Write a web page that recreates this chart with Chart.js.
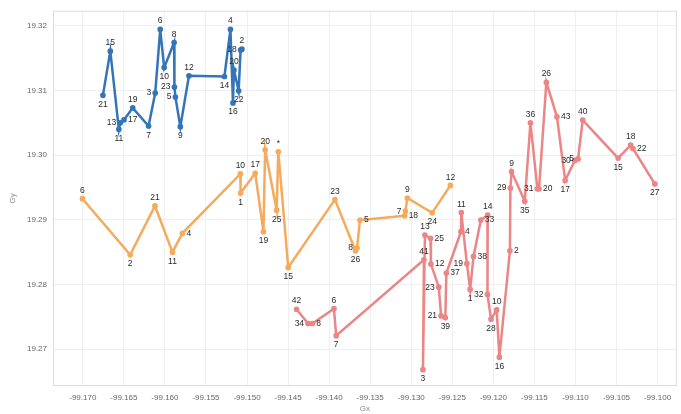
<!DOCTYPE html>
<html><head><meta charset="utf-8">
<script src="https://cdn.jsdelivr.net/npm/chart.js@4/dist/chart.umd.min.js"></script>
<style>html,body{margin:0;padding:0;background:#fff}</style>
</head><body>
<canvas id="c" width="681" height="414"></canvas>
<script>
const xTickValues = [-99.170,-99.165,-99.160,-99.155,-99.150,-99.145,-99.140,-99.135,-99.130,-99.125,-99.120,-99.115,-99.110,-99.105,-99.100];
const yTickValues = [19.27,19.28,19.29,19.30,19.31,19.32];

const blueLabels = ['21','15','11','13','17','19','7','3','6','10','8','23','5','9','12','14','4','16','20','22','18','2'];
const blueX = [-99.16755,-99.16665,-99.16561,-99.16544,-99.16498,-99.16392,-99.16199,-99.16118,-99.16057,-99.16009,-99.15888,-99.15884,-99.15872,-99.15812,-99.15707,-99.15275,-99.15202,-99.15171,-99.15159,-99.15102,-99.15078,-99.15062];
const blueY = [19.30923,19.31606,19.30397,19.30499,19.30545,19.30729,19.30449,19.30959,19.31943,19.31352,19.31740,19.31051,19.30897,19.30438,19.31224,19.31214,19.31943,19.30806,19.31315,19.30994,19.31622,19.31637];

const orangeLabels = ['6','2','21','11','4','10','1','17','19','20','25','*','15','23','26','8','5','18','7','9','24','12'];
const orangeX = [-99.17004,-99.16423,-99.16121,-99.15908,-99.15787,-99.15081,-99.15078,-99.14900,-99.14800,-99.14779,-99.14639,-99.14619,-99.14498,-99.13929,-99.13679,-99.13660,-99.13624,-99.13080,-99.13071,-99.13047,-99.12745,-99.12523];
const orangeY = [19.29325,19.28458,19.29213,19.28498,19.28789,19.29708,19.29412,19.29718,19.28815,19.30081,19.29147,19.30051,19.28263,19.29312,19.28519,19.28562,19.28994,19.29060,19.29132,19.29335,19.29106,19.29530];

const redLabels = ['42','34','8','6','7','41','3','13','25','12','23','21','39','37','4','11','19','1','38','33','14','32','28','10','16','2','29','9','35','36','31','20','26','43','17','30','5','40','15','18','22','27'];
const redX = [-99.14397,-99.14256,-99.14204,-99.13941,-99.13914,-99.12845,-99.12857,-99.12833,-99.12765,-99.12760,-99.12664,-99.12636,-99.12584,-99.12572,-99.12394,-99.12390,-99.12322,-99.12282,-99.12241,-99.12152,-99.12068,-99.12071,-99.12028,-99.11959,-99.11926,-99.11798,-99.11792,-99.11778,-99.11617,-99.11548,-99.11463,-99.11443,-99.11354,-99.11225,-99.11125,-99.11007,-99.10968,-99.10911,-99.10480,-99.10327,-99.10299,-99.10033];
const redY = [19.27616,19.27395,19.27395,19.27625,19.27207,19.28381,19.26681,19.28764,19.28712,19.28314,19.27957,19.27513,19.27487,19.28176,19.28815,19.29110,19.28320,19.27922,19.28432,19.28994,19.29070,19.27845,19.27462,19.27605,19.26874,19.28519,19.29489,19.29744,19.29285,19.30499,19.29478,19.29478,19.31123,19.30591,19.29606,19.29917,19.29940,19.30541,19.29953,19.30152,19.30101,19.29554];

function pts(xs, ys){ return xs.map((x,i)=>({x:x, y:ys[i]})); }

const series = [
  {labels: blueLabels, data: pts(blueX, blueY), color: '#3474b8'},
  {labels: orangeLabels, data: pts(orangeX, orangeY), color: '#f5aa5c'},
  {labels: redLabels, data: pts(redX, redY), color: '#ec8586'}
];

const framePlugin = {
  id: 'frame',
  beforeDatasetsDraw(chart){
    const a = chart.chartArea, ctx = chart.ctx;
    ctx.save();
    ctx.strokeStyle = '#dcdcdc';
    ctx.lineWidth = 1;
    ctx.strokeRect(a.left + 0.5, a.top + 0.5, a.right - a.left - 1, a.bottom - a.top - 1);
    ctx.restore();
  }
};

const labelPlugin = {
  id: 'pointLabels',
  afterDatasetsDraw(chart){
    const ctx = chart.ctx;
    ctx.save();
    ctx.font = '8.5px "Liberation Sans", Arial, sans-serif';
    ctx.fillStyle = '#2a2a2a';
    chart.data.datasets.forEach((ds, di) => {
      const els = chart.getDatasetMeta(di).data;
      els.forEach((p, i) => {
        const nb = [els[i-1], els[i+1]].filter(Boolean).map(q => q.y);
        let mode = 'right';
        if (nb.every(y => y > p.y + 0.3)) mode = 'above';
        else if (nb.every(y => y < p.y - 0.3)) mode = 'below';
        else if (els[i+1]) {
          const dx = Math.abs(els[i+1].x - p.x);
          if (dx >= 0.9 && dx <= 6) mode = 'left';
        }
        const txt = ds.pointText[i];
        if (mode === 'above') { ctx.textAlign = 'center'; ctx.textBaseline = 'bottom'; ctx.fillText(txt, p.x, p.y - 4); }
        else if (mode === 'below') { ctx.textAlign = 'center'; ctx.textBaseline = 'top'; ctx.fillText(txt, p.x, p.y + 5); }
        else if (mode === 'left') { ctx.textAlign = 'right'; ctx.textBaseline = 'middle'; ctx.fillText(txt, p.x - 4, p.y); }
        else { ctx.textAlign = 'left'; ctx.textBaseline = 'middle'; ctx.fillText(txt, p.x + 4, p.y); }
      });
    });
    ctx.restore();
  }
};

new Chart(document.getElementById('c'), {
  type: 'scatter',
  data: {
    datasets: series.map(s => ({
      data: s.data,
      pointText: s.labels,
      showLine: true,
      borderColor: s.color,
      backgroundColor: s.color,
      borderWidth: 2.5,
      pointRadius: 1.6,
      pointHoverRadius: 1.6,
      tension: 0
    }))
  },
  options: {
    responsive: false,
    animation: false,
    layout: {padding: {top: 7, right: 2, left: 0, bottom: 0}},
    plugins: {legend: {display: false}, tooltip: {enabled: false}},
    scales: {
      x: {
        type: 'linear',
        min: -99.17363, max: -99.09764,
        afterBuildTicks: s => { s.ticks = xTickValues.map(v => ({value: v})); },
        afterFit: s => { s.height = 28; },
        grid: {color: '#efefef', drawTicks: false},
        border: {display: false},
        ticks: {padding: 7, color: '#666', font: {size: 8, family: '"Liberation Sans", Arial, sans-serif'}, callback: v => Number(v).toFixed(3), maxRotation: 0, autoSkip: false},
        title: {display: true, text: 'Gx', color: '#888', padding: {top: 0, bottom: 0}, font: {size: 8, family: '"Liberation Sans", Arial, sans-serif'}}
      },
      y: {
        type: 'linear',
        min: 19.26429, max: 19.3223,
        afterBuildTicks: s => { s.ticks = yTickValues.map(v => ({value: v})); },
        afterFit: s => { s.width = 53; },
        grid: {color: '#efefef', drawTicks: false},
        border: {display: false},
        ticks: {padding: 6, color: '#666', font: {size: 8, family: '"Liberation Sans", Arial, sans-serif'}, callback: v => Number(v).toFixed(2), autoSkip: false},
        title: {display: true, text: 'Gy', color: '#888', padding: {top: 8, bottom: 0}, font: {size: 8, family: '"Liberation Sans", Arial, sans-serif'}}
      }
    }
  },
  plugins: [framePlugin, labelPlugin]
});
</script>
</body></html>
